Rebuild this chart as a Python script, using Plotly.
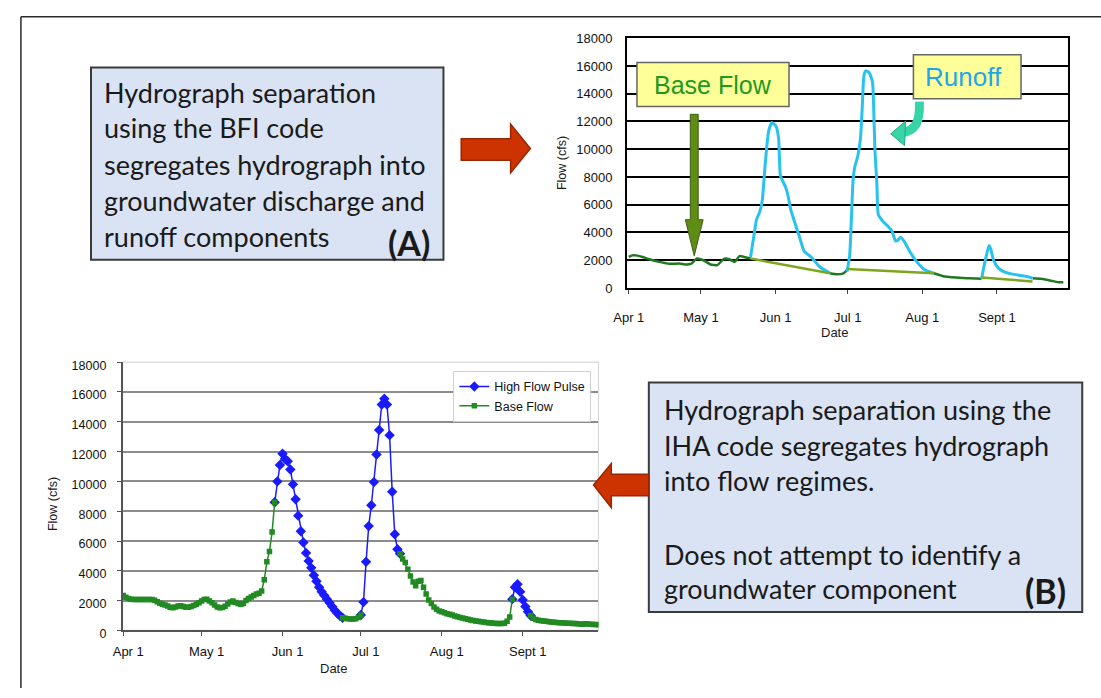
import plotly.graph_objects as go

W, H = 1101, 698

# ---------------- data ----------------
month_ticks = [0, 30, 61, 91, 122, 153]          # days after Apr 1
month_labels = ["Apr 1", "May 1", "Jun 1", "Jul 1", "Aug 1", "Sept 1"]
flow_ticks = [0, 2000, 4000, 6000, 8000, 10000, 12000, 14000, 16000, 18000]

# (A) BFI hydrograph separation (top chart), day offsets from Apr 1
bfi_base_days = [0, 1.4, 3, 5.7, 8.5, 12.7, 17, 21, 24, 26, 28.3, 31, 34, 36.8, 39.7, 41.8, 44, 46, 48, 50.6,
                 None, 83.6, 86.4, 89.2, 90.7,
                 None, 126.8, 130.3, 136, 141.6, 146.6,
                 None, 167.8, 171.4, 175.6, 178.5, 180.6]
bfi_base_cfs = [2235, 2350, 2350, 2235, 2070, 1880, 1740, 1760, 1690, 1760, 2120, 2000, 1690, 1650, 2120, 2070, 1880, 2300, 2235, 2120,
                None, 1060, 990, 1060, 1290,
                None, 1060, 870, 750, 700, 660,
                None, 700, 660, 520, 420, 420]

bfi_runoff_days = [50.6, 52, 53.1, 54.5, 55.5, 56.7, 58.1, 59.5, 61.2, 62.3, 63, 65.1, 66.1, 67.3, 70.8, 72.9, 75.8, 79.3, 83.6,
                   None, 90.7, 91.8, 92.5, 93.2, 93.9, 95.2, 96.3, 97.0, 97.7, 98.4, 99.9, 101.3, 101.7, 102.3, 103.1, 103.7,
                   105.5, 107.6, 109.3, 110.8, 111.6, 113.0, 114.7, 116.9, 119.7, 123.2, 126.8,
                   None, 146.6, 148, 149.7, 150.4, 151.6, 153.7, 156.5, 161.5, 165.7, 167.8]
bfi_runoff_cfs = [2235, 3760, 4940, 5530, 6350, 8940, 11290, 11930, 11650, 10710, 8120, 7290, 6710, 5650, 3760, 2640, 2235, 1530, 1060,
                  None, 1180, 2350, 4940, 7760, 8710, 9530, 10820, 12940, 15290, 15650, 15530, 14820, 13410, 9880, 7530, 5290,
                  4820, 4470, 4120, 3410, 3410, 3650, 3290, 2590, 1880, 1290, 1060,
                  None, 660, 1880, 3060, 2820, 2000, 1410, 1130, 940, 820, 700]

bfi_sep_days = [50.6, 83.6, None, 90.7, 126.8, None, 146.6, 167.8]
bfi_sep_cfs = [2120, 1060, None, 1365, 1060, None, 750, 470]

# (B) IHA daily flow (bottom chart), day 0 = Apr 1
iha_flow = [
    2350, 2220, 2150, 2100, 2080, 2080, 2080, 2080, 2080, 2080,
    2080, 2080, 2030, 1920, 1830, 1760, 1700, 1640, 1560, 1520,
    1580, 1640, 1650, 1600, 1550, 1560, 1600, 1680, 1750, 1850,
    1980, 2080, 2100, 1980, 1850, 1700, 1580, 1520, 1540, 1620,
    1780, 1900, 1980, 1880, 1800, 1760, 1800, 2000, 2150, 2250,
    2350, 2450, 2500, 2650, 3400, 4600, 5300, 6600, 8600, 10000,
    11100, 11850, 11500, 11350, 10800, 9800, 8800, 7700, 6650, 5900,
    5200, 4650, 4200, 3700, 3300, 2900, 2600, 2350, 2100, 1850,
    1600, 1350, 1150, 980, 850, 820, 780, 760, 760, 780,
    870, 1040, 1900, 4600, 7000, 8400, 9950, 11800, 13450, 15150,
    15550, 15150, 13100, 9300, 6450, 5450, 5150, 4800, 4550, 4100,
    3650, 3250, 3000, 3300, 3350, 2900, 2450, 2050, 1800, 1580,
    1420, 1300, 1250, 1180, 1120, 1080, 1030, 970, 920, 870,
    830, 790, 750, 700, 670, 640, 610, 580, 560, 540,
    510, 500, 490, 470, 460, 460, 490, 620, 900, 2100,
    2900, 3100, 2600, 2050, 1600, 1250, 1000, 820, 730, 680,
    650, 630, 610, 590, 570, 550, 540, 520, 510, 500,
    490, 480, 470, 460, 440, 430, 420, 440, 430, 410,
    400, 390, 380,
]
pulse_start = [58, 91, 149]
pulse_end = [84, 106, 156]

# ---------------- build series ----------------
days = list(range(len(iha_flow)))
high_x, high_y = [], []
for s, e in zip(pulse_start, pulse_end):
    for d in range(s, e + 1):
        high_x.append(d)
        high_y.append(iha_flow[d])
    high_x.append(None)
    high_y.append(None)

base_x, base_y = [], []
for d in days:
    inside = any(s < d < e for s, e in zip(pulse_start, pulse_end))
    if inside:
        if base_x and base_x[-1] is not None:
            base_x.append(None)
            base_y.append(None)
    else:
        base_x.append(d)
        base_y.append(iha_flow[d])


def X(px):
    return px / W


def Y(py):
    return 1 - py / H


ARIAL = "Liberation Sans, Arial, sans-serif"
BOXFONT = "Lato, Open Sans, sans-serif"

fig = go.Figure()

# top chart
fig.add_trace(go.Scatter(x=bfi_base_days, y=bfi_base_cfs, mode="lines",
                         line=dict(color="#1f7a1f", width=2.5, shape="spline", smoothing=0.5),
                         xaxis="x", yaxis="y", showlegend=False, hoverinfo="skip"))
fig.add_trace(go.Scatter(x=bfi_runoff_days, y=bfi_runoff_cfs, mode="lines",
                         line=dict(color="#27c2ee", width=3, shape="spline", smoothing=0.5),
                         xaxis="x", yaxis="y", showlegend=False, hoverinfo="skip"))
fig.add_trace(go.Scatter(x=bfi_sep_days, y=bfi_sep_cfs, mode="lines",
                         line=dict(color="#7ea51e", width=2.5),
                         xaxis="x", yaxis="y", showlegend=False, hoverinfo="skip"))

# bottom chart
fig.add_trace(go.Scatter(x=high_x, y=high_y, name="High Flow Pulse", mode="lines+markers",
                         line=dict(color="#1a1aff", width=1.5),
                         marker=dict(symbol="diamond", size=8, color="#1a1aff"),
                         xaxis="x2", yaxis="y2"))
fig.add_trace(go.Scatter(x=base_x, y=base_y, name="Base Flow", mode="lines+markers",
                         line=dict(color="#228a22", width=1.5),
                         marker=dict(symbol="square", size=5.5, color="#228a22"),
                         xaxis="x2", yaxis="y2"))

shapes = []
# frame lines
shapes.append(dict(type="line", xref="paper", yref="paper", x0=X(7), y0=Y(10), x1=X(1101), y1=Y(10),
                   line=dict(color="#2b2b2b", width=1.5)))
shapes.append(dict(type="line", xref="paper", yref="paper", x0=X(7), y0=Y(10), x1=X(7), y1=Y(698),
                   line=dict(color="#2b2b2b", width=1.5)))
# bottom chart light border
shapes.append(dict(type="rect", xref="x2 domain", yref="y2 domain", x0=0, y0=0, x1=1, y1=1,
                   line=dict(color="#d8d8d8", width=1.2), layer="below"))
# text boxes
shapes.append(dict(type="rect", xref="paper", yref="paper", x0=X(78), y0=Y(259), x1=X(435), y1=Y(62),
                   fillcolor="#dae3f3", line=dict(color="#3a3a3a", width=2)))
shapes.append(dict(type="rect", xref="paper", yref="paper", x0=X(643), y0=Y(620), x1=X(1082), y1=Y(385),
                   fillcolor="#dae3f3", line=dict(color="#3a3a3a", width=2)))
# yellow label boxes on the top chart
shapes.append(dict(type="rect", xref="paper", yref="paper", x0=X(631), y0=Y(102), x1=X(785), y1=Y(57),
                   fillcolor="#ffff99", line=dict(color="#666666", width=1.5), layer="above"))
shapes.append(dict(type="rect", xref="paper", yref="paper", x0=X(911), y0=Y(94), x1=X(1020), y1=Y(49),
                   fillcolor="#ffff99", line=dict(color="#666666", width=1.5), layer="above"))


def path(points):
    s = "M " + " L ".join(f"{X(px):.5f},{Y(py):.5f}" for px, py in points) + " Z"
    return s


# red arrows
shapes.append(dict(type="path", xref="paper", yref="paper",
                   path=path([(453, 135), (503, 135), (503, 120), (523, 145), (503, 170), (503, 157), (453, 157)]),
                   fillcolor="#cc3300", line=dict(color="#9a2600", width=1.5)))
shapes.append(dict(type="path", xref="paper", yref="paper",
                   path=path([(643, 479), (605, 479), (605, 468), (587, 490), (605, 513), (605, 501), (643, 501)]),
                   fillcolor="#cc3300", line=dict(color="#9a2600", width=1.5)))
# green down arrow
shapes.append(dict(type="path", xref="paper", yref="paper",
                   path=path([(685, 110), (693, 110), (693, 218), (698, 218), (689, 255), (680, 218), (685, 218)]),
                   fillcolor="#5e8c14", line=dict(color="#3e6010", width=1), layer="above"))
# teal curved arrow
shapes.append(dict(type="path", xref="paper", yref="paper",
                   path=f"M {X(917):.5f},{Y(97):.5f} C {X(918):.5f},{Y(118):.5f} {X(913):.5f},{Y(127):.5f} {X(899):.5f},{Y(129):.5f}",
                   line=dict(color="#36d4a6", width=9), layer="above"))
shapes.append(dict(type="path", xref="paper", yref="paper",
                   path=path([(903, 117), (888, 130), (902, 142)]),
                   fillcolor="#36d4a6", line=dict(color="#1fa584", width=1), layer="above"))

annotations = []


def txt(text, px, py, size, color="#1a1a1a", family=BOXFONT, xanchor="left", bold=False, angle=0):
    annotations.append(dict(text=f"<b>{text}</b>" if bold else text, xref="paper", yref="paper",
                            x=X(px), y=Y(py), xanchor=xanchor, yanchor="middle", showarrow=False,
                            textangle=angle, font=dict(family=family, size=size, color=color)))


box_a_lines = ["Hydrograph separation", "using the BFI code", "segregates hydrograph into",
               "groundwater discharge and", "runoff components"]
for line, py in zip(box_a_lines, [88, 124, 161, 198, 235]):
    txt(line, 89, py, 27)
txt("(A)", 400, 241, 34, xanchor="center", bold=True)

box_b_lines = ["Hydrograph separation using the", "IHA code segregates hydrograph", "into flow regimes.",
               "Does not attempt to identify a", "groundwater component"]
for line, py in zip(box_b_lines, [413, 449, 485, 561, 596]):
    txt(line, 656, py, 27)
txt("(B)", 1045, 598, 34, xanchor="center", bold=True)

txt("Base Flow", 708, 80, 25, color="#1e9a1e", family=ARIAL, xanchor="center")
txt("Runoff", 962, 72, 26, color="#1ea6ea", family=ARIAL, xanchor="center")

# axis titles
txt("Flow (cfs)", 555, 160, 12.5, family=ARIAL, xanchor="center", angle=-90)
txt("Date", 831, 334, 13, family=ARIAL, xanchor="center")
txt("Flow (cfs)", 39, 510, 12.5, family=ARIAL, xanchor="center", angle=-90)
txt("Date", 324, 678, 13, family=ARIAL, xanchor="center")

tickfont = dict(family=ARIAL, size=13, color="#111")

fig.update_layout(
    width=W, height=H, autosize=False,
    margin=dict(l=0, r=0, t=0, b=0),
    paper_bgcolor="white", plot_bgcolor="white",
    shapes=shapes, annotations=annotations,
    showlegend=True,
    legend=dict(x=X(445), y=Y(373), xanchor="left", yanchor="top", bgcolor="white",
                bordercolor="#d0d0d0", borderwidth=1, font=dict(family=ARIAL, size=12.5, color="#111"),
                itemwidth=30, tracegroupgap=0),
    xaxis=dict(domain=[X(621), X(1068)], range=[-0.7, 182.7], anchor="y",
               tickvals=month_ticks, ticktext=month_labels, showgrid=False, zeroline=False,
               showline=True, linecolor="#000", linewidth=2, mirror=True,
               ticks="outside", ticklen=4, tickcolor="#444", tickfont=tickfont, ticklabelstandoff=12),
    yaxis=dict(domain=[Y(288), Y(32)], range=[0, 18000], anchor="x",
               tickvals=flow_ticks, tickformat="d", showgrid=True, gridcolor="#000", gridwidth=2, zeroline=False,
               showline=True, linecolor="#000", linewidth=2, mirror=True,
               ticks="", tickfont=tickfont, ticklabelstandoff=10),
    xaxis2=dict(domain=[X(110), X(592)], range=[-0.25, 182], anchor="y2",
                tickvals=month_ticks, ticktext=month_labels, showgrid=False, zeroline=False,
                showline=True, linecolor="#555", linewidth=1.5,
                ticks="outside", ticklen=4, tickcolor="#555", tickfont=tickfont,
                ticklabelstandoff=4, ticklabelshift=5),
    yaxis2=dict(domain=[Y(639), Y(364)], range=[0, 18000], anchor="x2",
                tickvals=flow_ticks, tickformat="d", showgrid=True, gridcolor="#8c8c8c", gridwidth=1.5, zeroline=False,
                showline=True, linecolor="#555", linewidth=1.5,
                ticks="outside", ticklen=4, tickcolor="#555",
                tickfont=dict(family=ARIAL, size=12.5, color="#111"), ticklabelstandoff=8, ticklabelshift=3),
)

fig.write_html("out.html", config={"displayModeBar": False},
               post_script="document.body.style.margin='0';document.body.style.padding='0';"
                           "document.documentElement.style.overflow='hidden';document.body.style.overflow='hidden';")
